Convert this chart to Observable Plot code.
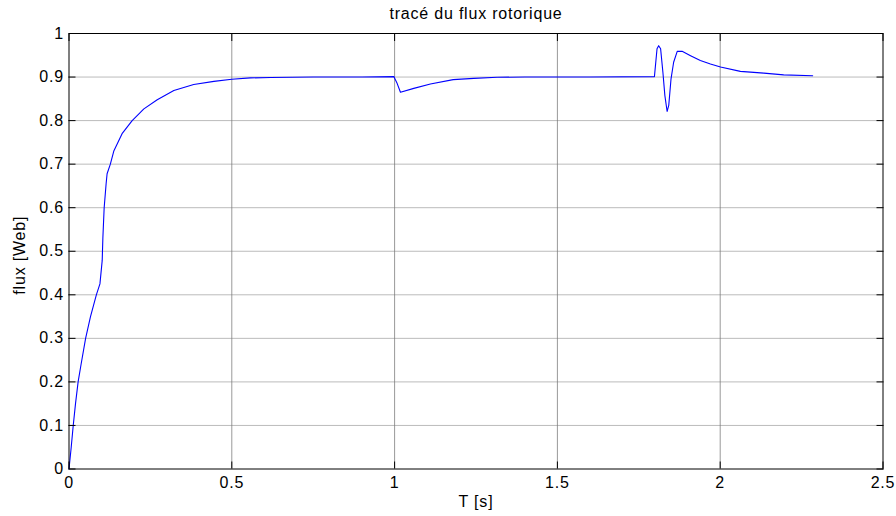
<!DOCTYPE html>
<html>
<head>
<meta charset="utf-8">
<script src="https://cdn.jsdelivr.net/npm/d3@7"></script>
<script src="https://cdn.jsdelivr.net/npm/@observablehq/plot@0.6"></script>
<style>
  html, body { margin: 0; padding: 0; background: #fff; }
  svg { font-family: "Liberation Sans", Arial, sans-serif; }
</style>
</head>
<body>
<div id="chart"></div>
<script>
const titleText = "tracé du flux rotorique";
const xLabel = "T [s]";
const yLabel = "flux [Web]";
const xTicks = [0, 0.5, 1, 1.5, 2, 2.5];
const yTicks = [0, 0.1, 0.2, 0.3, 0.4, 0.5, 0.6, 0.7, 0.8, 0.9, 1];
const xTickLabels = ["0", "0.5", "1", "1.5", "2", "2.5"];
const yTickLabels = ["0", "0.1", "0.2", "0.3", "0.4", "0.5", "0.6", "0.7", "0.8", "0.9", "1"];

const timeS = [0, 0.0068, 0.013, 0.02, 0.028, 0.037, 0.051, 0.066, 0.084, 0.095, 0.102, 0.104, 0.108, 0.114, 0.117, 0.127, 0.138, 0.163, 0.194, 0.23, 0.271, 0.322, 0.383, 0.445, 0.50, 0.557, 0.62, 0.75, 0.9, 0.9975, 1.008, 1.018, 1.059, 1.11, 1.18, 1.243, 1.315, 1.4, 1.6, 1.798, 1.806, 1.811, 1.817, 1.824, 1.830, 1.837, 1.842, 1.849, 1.857, 1.868, 1.883, 1.909, 1.939, 1.970, 2.001, 2.062, 2.134, 2.195, 2.284];
const fluxWeb = [0, 0.05, 0.10, 0.15, 0.20, 0.24, 0.30, 0.35, 0.40, 0.425, 0.479, 0.53, 0.60, 0.655, 0.678, 0.70, 0.731, 0.77, 0.80, 0.827, 0.848, 0.869, 0.883, 0.890, 0.895, 0.898, 0.899, 0.900, 0.900, 0.901, 0.885, 0.865, 0.874, 0.884, 0.894, 0.897, 0.8995, 0.900, 0.900, 0.901, 0.965, 0.972, 0.965, 0.911, 0.858, 0.821, 0.835, 0.896, 0.934, 0.959, 0.959, 0.949, 0.938, 0.930, 0.923, 0.913, 0.909, 0.905, 0.903];

const data = timeS.map((t, i) => ({t, f: fluxWeb[i]}));
const xFmt = d => xTickLabels[xTicks.indexOf(d)];
const yFmt = d => yTickLabels[yTicks.indexOf(d)];

const fontSize = 16;
const tk = 7;

const chart = Plot.plot({
  width: 896,
  height: 516,
  marginLeft: 68.5,
  marginRight: 13.5,
  marginTop: 33,
  marginBottom: 47.5,
  style: {fontFamily: "'Liberation Sans', Arial, sans-serif", fontSize: fontSize + "px", color: "#000", background: "#fff", letterSpacing: "0.8px"},
  x: {domain: [0, 2.5]},
  y: {domain: [0, 1]},
  marks: [
    Plot.ruleX(xTicks.slice(1, -1), {stroke: "#999", strokeWidth: 1, strokeOpacity: 1}),
    Plot.ruleY(yTicks.slice(1, -1), {stroke: "#777", strokeWidth: 1, strokeOpacity: 1, strokeDasharray: "1,1"}),
    Plot.line(data, {x: "t", y: "f", stroke: "#0000ff", strokeWidth: 1.1}),
    Plot.frame({stroke: "#000", strokeWidth: 1}),
    // inward ticks on all four sides
    Plot.axisX({anchor: "bottom", ticks: xTicks, tickSize: tk, dy: -tk, text: null, label: null, stroke: "#000"}),
    Plot.axisX({anchor: "top", ticks: xTicks, tickSize: tk, dy: tk, text: null, label: null, stroke: "#000"}),
    Plot.axisY({anchor: "left", ticks: yTicks, tickSize: tk, dx: tk, text: null, label: null, stroke: "#000"}),
    Plot.axisY({anchor: "right", ticks: yTicks, tickSize: tk, dx: -tk, text: null, label: null, stroke: "#000"}),
    // labels
    Plot.axisX({anchor: "bottom", ticks: xTicks, tickSize: 0, tickPadding: 8, tickFormat: xFmt, label: null, fontSize: fontSize, fill: "#000"}),
    Plot.axisY({anchor: "left", ticks: yTicks, tickSize: 0, tickPadding: 5, tickFormat: yFmt, label: null, fontSize: fontSize, fill: "#000"}),
    Plot.text([titleText], {frameAnchor: "top", dy: -15, text: d => d, fontSize: fontSize, fill: "#000", textAnchor: "middle", lineAnchor: "bottom"}),
    Plot.text([xLabel], {frameAnchor: "bottom", dy: 38, text: d => d, fontSize: fontSize, fill: "#000", textAnchor: "middle", lineAnchor: "bottom"}),
    Plot.text([yLabel], {frameAnchor: "left", dx: -49, dy: 4, rotate: -90, text: d => d, fontSize: fontSize, fill: "#000", textAnchor: "middle"})
  ]
});
document.getElementById("chart").appendChild(chart);
</script>
</body>
</html>
